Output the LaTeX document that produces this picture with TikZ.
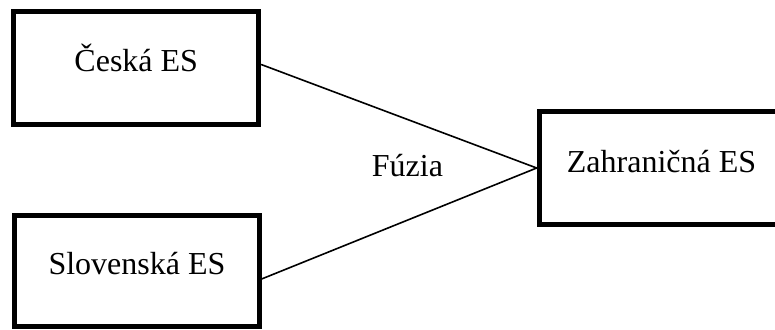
\documentclass[tikz,border=0pt]{standalone}
\usepackage{fontspec}
\setmainfont{Liberation Serif}
\usetikzlibrary{positioning,calc}

\begin{document}
\begin{tikzpicture}[x=0.75pt,y=-0.75pt,line width=1.2pt,
  es box/.style={rectangle,draw,line width=3.75pt,minimum width=183.5pt,
    minimum height=84.75pt,inner sep=0pt,text height=15.7pt,text depth=10pt,
    font=\fontsize{24}{28}\selectfont}]
   \useasboundingbox (0,0) rectangle (775,329);
   \node[es box] (ceska) at (136.25,68) {Česká ES};
   \node[es box,minimum height=83.6pt] (slovenska) at (137,270.75) {Slovenská ES};
   \node[es box,text depth=9pt] (zahranicna) at (661.5,168) {Zahraničná ES};
   \node[font=\fontsize{24}{28}\selectfont,anchor=base] (fuzia) at (407.5,176) {Fúzia};
   % where the lines leave the two boxes
   \coordinate (ceska_out) at ($(ceska.north east)!0.47!(ceska.south east)$);
   \coordinate (slovenska_out) at ($(slovenska.north east)!0.57!(slovenska.south east)$);
    \path[draw]
    (ceska_out) edge (zahranicna.west)
    (slovenska_out) edge (zahranicna.west);
\end{tikzpicture}
\end{document}
